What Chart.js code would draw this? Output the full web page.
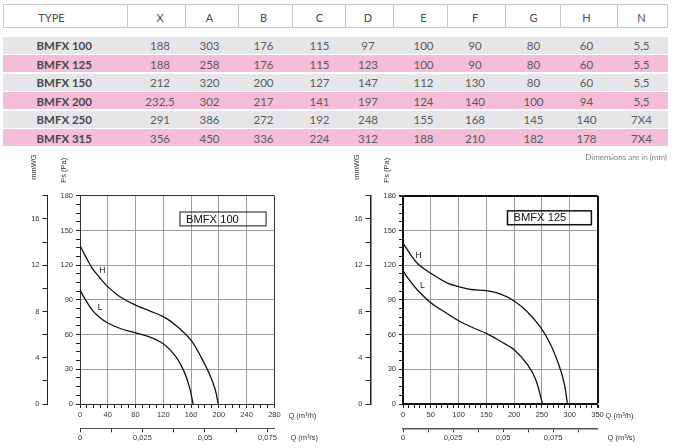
<!DOCTYPE html>
<html>
<head>
<meta charset="utf-8">
<script src="https://cdn.jsdelivr.net/npm/chart.js@4.4.1/dist/chart.umd.min.js"></script>
<style>
  html, body { margin: 0; padding: 0; background: #fff; }
  #page { position: relative; width: 675px; height: 448px; overflow: hidden; font-family: Lato, "Open Sans", sans-serif; }
  .hdr { position: absolute; left: 3px; top: 4px; width: 665px; height: 24px; border: 1px solid #c6c6c6; box-sizing: border-box; }
  .div { position: absolute; top: 0; width: 1px; height: 22px; background: #c6c6c6; }
  .band { position: absolute; left: 3px; width: 665px; height: 17px; }
  .cell { position: absolute; transform: translate(-50%, -50%); white-space: nowrap; }
  .htxt { font-size: 11px; color: #4a4a4a; }
  .num { font-size: 11.5px; color: #5a5a5a; }
  .type { position: absolute; left: 36.5px; transform: translateY(-50%); font-size: 11.5px; font-weight: bold; color: #474747; white-space: nowrap; }
  .note { position: absolute; right: 8px; top: 152px; font-size: 8px; color: #808080; z-index: 2; }
  canvas { position: absolute; top: 150px; }
  #c100 { left: 0; }
  #c125 { left: 323px; }
</style>
</head>
<body>
<div id="page">
  <div class="hdr" id="hdr"></div>
  <div id="rows"></div>
  <div class="note">Dimensions are in (mm)</div>
  <canvas id="c100" width="323" height="298"></canvas>
  <canvas id="c125" width="352" height="298"></canvas>
</div>
<script>
// Dimension table
const tableColumns = ["X", "A", "B", "C", "D", "E", "F", "G", "H", "N"];
const fanTypes = ["BMFX 100", "BMFX 125", "BMFX 150", "BMFX 200", "BMFX 250", "BMFX 315"];
const dimX = ["188", "188", "212", "232,5", "291", "356"];
const dimA = ["303", "258", "320", "302", "386", "450"];
const dimB = ["176", "176", "200", "217", "272", "336"];
const dimC = ["115", "115", "127", "141", "192", "224"];
const dimD = ["97", "123", "147", "197", "248", "312"];
const dimE = ["100", "100", "112", "124", "155", "188"];
const dimF = ["90", "90", "130", "140", "168", "210"];
const dimG = ["80", "80", "80", "100", "145", "182"];
const dimH = ["60", "60", "60", "94", "140", "178"];
const dimN = ["5,5", "5,5", "5,5", "5,5", "7X4", "7X4"];

// Fan curves, Q in m3/h, Ps in Pa
const bmfx100HighQ = [0, 9, 18, 28, 40, 57, 80, 100, 120, 138, 160, 174, 186, 195, 199];
const bmfx100HighPs = [137, 126.5, 117, 109.5, 101.5, 93, 85.5, 80.5, 75.5, 68, 55, 41, 26.5, 12, 0];
const bmfx100LowQ = [0, 9, 18, 28, 40, 57, 80, 100, 120, 138, 150, 157.5, 163];
const bmfx100LowPs = [98.5, 89, 81, 75, 70, 65.5, 61.5, 58, 52, 41, 28, 15, 0];
const bmfx125HighQ = [0, 14, 26, 50, 80, 100, 122, 150, 176, 200, 224, 248, 266, 281, 290, 296];
const bmfx125HighPs = [139, 129, 121.5, 113, 104.5, 101.5, 99, 98, 95, 89, 79.5, 66, 51, 33, 18, 0];
const bmfx125LowQ = [0, 14, 26, 50, 80, 100, 128, 150, 176, 200, 224, 239, 251];
const bmfx125LowPs = [115, 105.5, 98.5, 87.5, 78, 72, 65.5, 61, 54, 47, 34, 21, 0];

// Tick labels
const psTicks = [0, 30, 60, 90, 120, 150, 180];
const mmwgTicks = [0, 4, 8, 12, 16];
const qHourTicks100 = [0, 40, 80, 120, 160, 200, 240, 280];
const qHourTicks125 = [0, 50, 100, 150, 200, 250, 300, 350];
const qSecTicks = [0, 0.025, 0.05, 0.075];
const qSecLabels = ["0", "0,025", "0,05", "0,075"];

// ---- table ----
const colCenters = [160, 209.5, 263.5, 319.5, 368, 423.5, 475, 533.5, 586.5, 641.5];
const dividers = [127.3, 185, 238.3, 291.7, 345, 393.3, 447.3, 505, 560, 616.7];

function buildTable() {
  const hdr = document.getElementById("hdr");
  let html = '<div class="cell htxt" style="left:47.5px;top:11.5px">TYPE</div>';
  dividers.forEach((d) => {
    html += '<div class="div" style="left:' + (d - 4) + 'px"></div>';
  });
  tableColumns.forEach((c, i) => {
    html += '<div class="cell htxt" style="left:' + (colCenters[i] - 4) + 'px;top:11.5px">' + c + "</div>";
  });
  hdr.innerHTML = html;

  const cols = [dimX, dimA, dimB, dimC, dimD, dimE, dimF, dimG, dimH, dimN];
  let rows = "";
  fanTypes.forEach((t, r) => {
    const top = 36.6 + r * 18.55;
    const bg = r % 2 === 0 ? "#e6e6e8" : "#f6bdd9";
    rows += '<div class="band" style="top:' + top + "px;background:" + bg + '"></div>';
    const cy = top + 8.6;
    rows += '<div class="type" style="top:' + cy + 'px">' + t + "</div>";
    cols.forEach((col, i) => {
      rows += '<div class="cell num" style="left:' + colCenters[i] + "px;top:" + cy + 'px">' + col[r] + "</div>";
    });
  });
  document.getElementById("rows").innerHTML = rows;
}

// ---- charts ----
const chartFont = '"Liberation Sans", Arial, sans-serif';

const chartTextPlugin = {
  id: "chartText",
  afterDraw(chart, args, opts) {
    const { ctx, chartArea, scales } = chart;
    ctx.save();
    ctx.fillStyle = "#333";
    ctx.font = "7.5px " + chartFont;
    ctx.textAlign = "left";
    ctx.textBaseline = "middle";

    // rotated axis titles above the plot
    const rot = (text, x, y) => {
      ctx.save();
      ctx.translate(x, y);
      ctx.rotate(-Math.PI / 2);
      ctx.fillText(text, 0, 0);
      ctx.restore();
    };
    rot("Ps (Pa)", scales.y.left + scales.y.width / 2, chartArea.top - 13);
    rot("mmWG", scales.mm.left + scales.mm.width / 2 + 1.5, chartArea.top - 16);

    ctx.fillText("Q (m³/h)", chartArea.right + opts.hourGap, scales.x.top + 11.5);
    ctx.fillText("Q (m³/s)", chartArea.right + opts.secGap, scales.xs.top + 9.5);

    // model box
    const bx1 = scales.x.getPixelForValue(opts.box[0]);
    const by1 = scales.y.getPixelForValue(opts.box[1]);
    const bx2 = scales.x.getPixelForValue(opts.box[2]);
    const by2 = scales.y.getPixelForValue(opts.box[3]);
    ctx.strokeStyle = "#111";
    ctx.lineWidth = opts.boxWidth;
    ctx.strokeRect(bx1, by1, bx2 - bx1, by2 - by1);
    ctx.fillStyle = "#111";
    ctx.font = "11.2px " + chartFont;
    ctx.fillText(opts.title, bx1 + 6, (by1 + by2) / 2 + 0.5);

    // curve letters
    ctx.font = "8.5px " + chartFont;
    ctx.textAlign = "center";
    ctx.fillText("H", scales.x.getPixelForValue(opts.hPos[0]), scales.y.getPixelForValue(opts.hPos[1]));
    ctx.fillText("L", scales.x.getPixelForValue(opts.lPos[0]), scales.y.getPixelForValue(opts.lPos[1]));
    ctx.restore();
  },
};

function toPoints(q, ps) {
  return q.map((v, i) => ({ x: v, y: ps[i] }));
}

function near(list, v) {
  return list.findIndex((t) => Math.abs(t - v) < 1e-6);
}

function buildChart(id, cfg) {
  const tickFont = { family: chartFont, size: 7.5 };
  const frame = (v, max, major, frameW) => ({
    color: v === 0 || Math.abs(v - max) < 1e-9 ? cfg.frameColor : major ? "#9c9c9c" : "rgba(0,0,0,0)",
    width: Math.abs(v - max) < 1e-9 ? frameW : 1,
  });
  const curve = (data) => ({
    data,
    borderColor: "#111",
    borderWidth: 1.3,
    pointRadius: 0,
    tension: 0.35,
    fill: false,
  });

  new Chart(document.getElementById(id), {
    type: "line",
    data: {
      datasets: [curve(toPoints(cfg.highQ, cfg.highPs)), curve(toPoints(cfg.lowQ, cfg.lowPs))],
    },
    options: {
      responsive: false,
      animation: false,
      layout: { padding: { left: 17.5, right: cfg.padRight, top: 45.8, bottom: 1.7 } },
      plugins: {
        legend: { display: false },
        tooltip: { enabled: false },
        chartText: cfg.text,
      },
      scales: {
        x: {
          type: "linear",
          position: "bottom",
          min: 0,
          max: cfg.qMax,
          afterFit: (s) => { s.height = 24.3; },
          border: { color: cfg.frameColor, width: cfg.axisWidth },
          grid: {
            color: (c) => frame(c.tick.value, cfg.qMax, cfg.qTicks.includes(c.tick.value), cfg.frameWidth).color,
            lineWidth: (c) => frame(c.tick.value, cfg.qMax, true, cfg.frameWidth).width,
            tickColor: "#222",
            tickLength: 4,
          },
          ticks: {
            stepSize: 10,
            maxTicksLimit: 100,
            autoSkip: false,
            maxRotation: 0,
            padding: 2,
            color: "#333",
            font: tickFont,
            callback: (v) => (cfg.qTicks.includes(v) ? String(v) : ""),
          },
        },
        xs: {
          type: "linear",
          axis: "x",
          position: "bottom",
          weight: 1,
          min: 0,
          max: cfg.qMax / 3600,
          bounds: "data",
          afterFit: (s) => { s.height = 18; },
          border: { color: "#555", width: cfg.axisWidth },
          grid: { drawOnChartArea: false, tickColor: "#333", tickLength: 4 },
          ticks: {
            stepSize: 0.0125,
            includeBounds: false,
            maxTicksLimit: 100,
            autoSkip: false,
            maxRotation: 0,
            padding: 1,
            color: "#333",
            font: tickFont,
            callback: (v) => {
              const k = near(qSecTicks, v);
              return k >= 0 ? qSecLabels[k] : "";
            },
          },
        },
        y: {
          type: "linear",
          position: "left",
          min: 0,
          max: 180,
          afterFit: (s) => { s.width = 32.5; },
          border: { color: cfg.frameColor, width: cfg.axisWidth },
          grid: {
            color: (c) => frame(c.tick.value, 180, psTicks.includes(c.tick.value), cfg.frameWidth).color,
            lineWidth: (c) => frame(c.tick.value, 180, true, cfg.frameWidth).width,
            tickColor: "#222",
            tickLength: 4,
          },
          ticks: {
            stepSize: 7.5,
            maxTicksLimit: 100,
            autoSkip: false,
            padding: 3,
            color: "#333",
            font: tickFont,
            callback: (v) => (psTicks.includes(v) ? String(v) : ""),
          },
        },
        mm: {
          type: "linear",
          axis: "y",
          position: "left",
          weight: 1,
          min: 0,
          max: 18,
          afterFit: (s) => { s.width = 30; },
          border: { color: "#222", width: cfg.axisWidth },
          grid: { drawOnChartArea: false, tickColor: "#222", tickLength: 5 },
          ticks: {
            stepSize: 2,
            maxTicksLimit: 100,
            autoSkip: false,
            padding: 3,
            color: "#333",
            font: tickFont,
            callback: (v) => (mmwgTicks.includes(v) ? String(v) : ""),
          },
        },
      },
    },
    plugins: [chartTextPlugin],
  });
}

document.addEventListener("DOMContentLoaded", () => {
  buildTable();

  buildChart("c100", {
    highQ: bmfx100HighQ, highPs: bmfx100HighPs,
    lowQ: bmfx100LowQ, lowPs: bmfx100LowPs,
    qMax: 280, qTicks: qHourTicks100,
    padRight: 48.6, axisWidth: 1, frameWidth: 1, frameColor: "#333",
    text: { title: "BMFX 100", box: [144, 166, 268, 154], boxWidth: 1, hPos: [32, 115], lPos: [29, 83.5], hourGap: 14, secGap: 16 },
  });

  buildChart("c125", {
    highQ: bmfx125HighQ, highPs: bmfx125HighPs,
    lowQ: bmfx125LowQ, lowPs: bmfx125LowPs,
    qMax: 350, qTicks: qHourTicks125,
    padRight: 77.5, axisWidth: 1.5, frameWidth: 2, frameColor: "#111",
    text: { title: "BMFX 125", box: [188, 167, 339, 155], boxWidth: 1.5, hPos: [28, 128], lPos: [35, 102], hourGap: 8, secGap: 10 },
  });
});
</script>
</body>
</html>
